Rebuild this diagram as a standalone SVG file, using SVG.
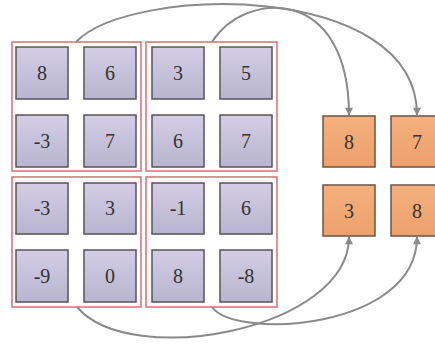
<svg xmlns="http://www.w3.org/2000/svg" width="435" height="349" viewBox="0 0 435 349">
<defs>
<linearGradient id="gp" x1="0" y1="0" x2="0" y2="1"><stop offset="0" stop-color="#d3cde5"/><stop offset="1" stop-color="#b9b5d0"/></linearGradient>
<linearGradient id="go" x1="0" y1="0" x2="0" y2="1"><stop offset="0" stop-color="#f4b07e"/><stop offset="1" stop-color="#eda06c"/></linearGradient>
<marker id="ah" viewBox="0 0 10 10" refX="9" refY="5" markerWidth="9" markerHeight="8" markerUnits="userSpaceOnUse" orient="auto"><path d="M0,0 L10,5 L0,10 z" fill="#8a8a8a"/></marker>
</defs>
<style>
.grp{fill:none;stroke:#d8787a;stroke-width:1.6}
.c{fill:url(#gp);stroke:#555;stroke-width:1.5}
.o{fill:url(#go);stroke:#6a5444;stroke-width:1.5}
text{font-family:"Liberation Serif",serif;font-size:20px;fill:#333;text-anchor:middle}
.e{fill:none;stroke:#8a8a8a;stroke-width:2;marker-end:url(#ah)}
</style>
<rect width="435" height="349" fill="#fff"/>
<g id="groups">
<rect class="grp" x="12" y="42" width="129" height="129"/>
<rect class="grp" x="146" y="42" width="131" height="129"/>
<rect class="grp" x="12" y="177" width="129" height="130"/>
<rect class="grp" x="146" y="177" width="131" height="130"/>
</g>
<g id="n1"><rect class="c" x="16" y="47" width="52" height="52"/><text x="42" y="80">8</text></g>
<g id="n2"><rect class="c" x="84" y="47" width="52" height="52"/><text x="110" y="80">6</text></g>
<g id="n3"><rect class="c" x="152" y="47" width="52" height="52"/><text x="178" y="80">3</text></g>
<g id="n4"><rect class="c" x="220" y="47" width="52" height="52"/><text x="246" y="80">5</text></g>
<g id="n5"><rect class="c" x="16" y="115" width="52" height="52"/><text x="42" y="148">-3</text></g>
<g id="n6"><rect class="c" x="84" y="115" width="52" height="52"/><text x="110" y="148">7</text></g>
<g id="n7"><rect class="c" x="152" y="115" width="52" height="52"/><text x="178" y="148">6</text></g>
<g id="n8"><rect class="c" x="220" y="115" width="52" height="52"/><text x="246" y="148">7</text></g>
<g id="n9"><rect class="c" x="16" y="183" width="52" height="51"/><text x="42" y="215">-3</text></g>
<g id="n10"><rect class="c" x="84" y="183" width="52" height="51"/><text x="110" y="215">3</text></g>
<g id="n11"><rect class="c" x="152" y="183" width="52" height="51"/><text x="178" y="215">-1</text></g>
<g id="n12"><rect class="c" x="220" y="183" width="52" height="51"/><text x="246" y="215">6</text></g>
<g id="n13"><rect class="c" x="16" y="250" width="52" height="52"/><text x="42" y="283">-9</text></g>
<g id="n14"><rect class="c" x="84" y="250" width="52" height="52"/><text x="110" y="283">0</text></g>
<g id="n15"><rect class="c" x="152" y="250" width="52" height="52"/><text x="178" y="283">8</text></g>
<g id="n16"><rect class="c" x="220" y="250" width="52" height="52"/><text x="246" y="283">-8</text></g>
<g id="o1"><rect class="o" x="323" y="116" width="52" height="51"/><text x="349" y="149">8</text></g>
<g id="o2"><rect class="o" x="391" y="116" width="52" height="51"/><text x="417" y="149">7</text></g>
<g id="o3"><rect class="o" x="323" y="185" width="52" height="51"/><text x="349" y="218">3</text></g>
<g id="o4"><rect class="o" x="391" y="185" width="52" height="51"/><text x="417" y="218">8</text></g>
<g id="connectors">
<path class="e" d="M76,42 C130,-15 417,-20 417,115"/>
<path class="e" d="M212,42 C245,-10 349,-15 349,115"/>
<path class="e" d="M77,307 C130,370 349,330 349,237"/>
<path class="e" d="M212,307 C235,340 417,330 417,237"/>
</g>
</svg>
